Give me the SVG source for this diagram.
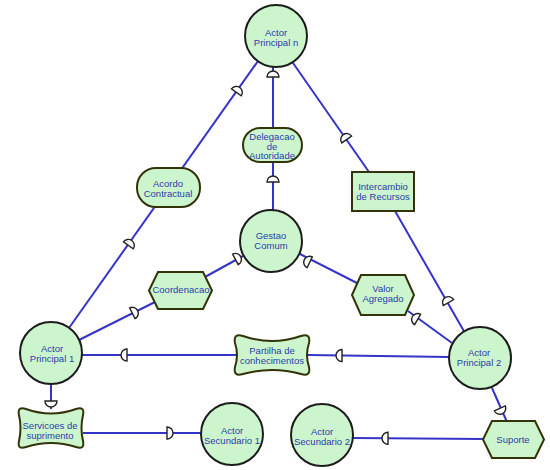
<svg xmlns="http://www.w3.org/2000/svg" width="550" height="470" viewBox="0 0 550 470">
<style>
.ln{stroke:#3434c8;stroke-width:2;fill:none}
.ac{fill:#cdf5cd;stroke:#1c1c1c;stroke-width:2}
.nd{fill:#cdf5cd;stroke:#33330a;stroke-width:2}
.t{font-family:"Liberation Sans",Arial,sans-serif;font-size:9.5px;fill:#2a3caa;text-anchor:middle}
.d{fill:#fff;stroke:#222;stroke-width:1.4}
</style>
<defs>
<path id="D" class="d" d="M0,-6 A6,6 0 0,1 0,6 Z"/>
</defs>
<rect width="550" height="470" fill="#fff"/>
<g id="connectors">
<line class="ln" x1="273" y1="67" x2="273" y2="128"/>
<line class="ln" x1="273" y1="162" x2="273" y2="210"/>
<line class="ln" x1="258" y1="61" x2="69" y2="328"/>
<line class="ln" x1="293" y1="63" x2="369" y2="172"/>
<line class="ln" x1="395" y1="211" x2="465" y2="333"/>
<line class="ln" x1="79" y1="340" x2="155" y2="302"/>
<line class="ln" x1="205" y1="277" x2="243" y2="256"/>
<line class="ln" x1="300" y1="254" x2="357" y2="283"/>
<line class="ln" x1="408" y1="311" x2="452" y2="343"/>
<line class="ln" x1="82" y1="355" x2="236" y2="355"/>
<line class="ln" x1="308" y1="355" x2="449" y2="357"/>
<line class="ln" x1="51" y1="384" x2="51" y2="409"/>
<line class="ln" x1="83" y1="433" x2="201" y2="433"/>
<line class="ln" x1="492" y1="388" x2="507" y2="422"/>
<line class="ln" x1="353" y1="438" x2="484" y2="439"/>
<use href="#D" transform="translate(273,77) rotate(-90)"/>
<use href="#D" transform="translate(273,182) rotate(-90)"/>
<use href="#D" transform="translate(236.3,92.4) rotate(-54.6)"/>
<use href="#D" transform="translate(128.3,245.4) rotate(-54.6)"/>
<use href="#D" transform="translate(132.3,313.3) rotate(-26.6)"/>
<use href="#D" transform="translate(235.4,259.4) rotate(-28)"/>
<use href="#D" transform="translate(309.7,262.3) rotate(-154)"/>
<use href="#D" transform="translate(417.6,319.5) rotate(-150)"/>
<use href="#D" transform="translate(448.5,302.6) rotate(-120)"/>
<use href="#D" transform="translate(346.7,139.5) rotate(-125)"/>
<use href="#D" transform="translate(127,355) rotate(180)"/>
<use href="#D" transform="translate(342,355.5) rotate(180)"/>
<use href="#D" transform="translate(51,401) rotate(90)"/>
<use href="#D" transform="translate(167,433)"/>
<use href="#D" transform="translate(388,438.3) rotate(180)"/>
<use href="#D" transform="translate(499.8,408.3) rotate(66)"/>
</g>
<g id="actor-n"><circle class="ac" cx="276" cy="36" r="31"/><text class="t" x="276" y="36">Actor</text><text class="t" x="276" y="46">Principal n</text></g>
<g id="delegacao"><rect class="nd" x="243" y="128" width="59" height="34" rx="17"/><text class="t" x="272" y="140">Delegacao</text><text class="t" x="272" y="149.5">de</text><text class="t" x="272" y="159">Autoridade</text></g>
<g id="acordo"><rect class="nd" x="137" y="168" width="63" height="39" rx="19"/><text class="t" x="168" y="187">Acordo</text><text class="t" x="168" y="197">Contractual</text></g>
<g id="intercambio"><rect class="nd" x="352" y="172" width="62" height="39"/><text class="t" x="383" y="190">Intercambio</text><text class="t" x="383" y="200">de Recursos</text></g>
<g id="gestao"><circle class="ac" cx="271" cy="241" r="31"/><text class="t" x="271" y="239">Gestao</text><text class="t" x="271" y="249">Comum</text></g>
<g id="coordenacao"><polygon class="nd" points="149,290.5 158,272 203,272 212,290.5 203,309 158,309"/><text class="t" x="181" y="293">Coordenacao</text></g>
<g id="valor"><polygon class="nd" points="352,295 361,275 405,275 414,295 405,315 361,315"/><text class="t" x="383" y="292">Valor</text><text class="t" x="383" y="302">Agregado</text></g>
<g id="actor-1"><circle class="ac" cx="51" cy="353" r="31"/><text class="t" x="52" y="352">Actor</text><text class="t" x="52" y="362">Principal 1</text></g>
<g id="partilha"><path class="nd" d="M243,336 Q272,346 301,336 Q311,333 309,343 Q305,355 309,367 Q311,377 301,374 Q272,366 243,374 Q233,377 235,367 Q239,355 235,343 Q233,333 243,336 Z"/><text class="t" x="272" y="354">Partilha de</text><text class="t" x="272" y="364">conhecimentos</text></g>
<g id="actor-2"><circle class="ac" cx="480" cy="358" r="31"/><text class="t" x="479" y="356">Actor</text><text class="t" x="479" y="366">Principal 2</text></g>
<g id="servicos"><path class="nd" d="M26,409 Q51,418 76,409 Q85,406 83,415 Q80,428 83,441 Q85,450 76,447 Q51,439 26,447 Q17,450 19,441 Q22,428 19,415 Q17,406 26,409 Z"/><text class="t" x="50" y="429">Servicoes de</text><text class="t" x="50" y="439">suprimento</text></g>
<g id="actor-sec-1"><circle class="ac" cx="232" cy="434" r="31"/><text class="t" x="232" y="434">Actor</text><text class="t" x="232" y="444">Secundario 1</text></g>
<g id="actor-sec-2"><circle class="ac" cx="322" cy="435" r="31"/><text class="t" x="322" y="435">Actor</text><text class="t" x="322" y="445">Secundario 2</text></g>
<g id="suporte"><polygon class="nd" points="483,439.5 492,421 535,421 544,439.5 535,458 492,458"/><text class="t" x="513" y="443">Suporte</text></g>
</svg>
